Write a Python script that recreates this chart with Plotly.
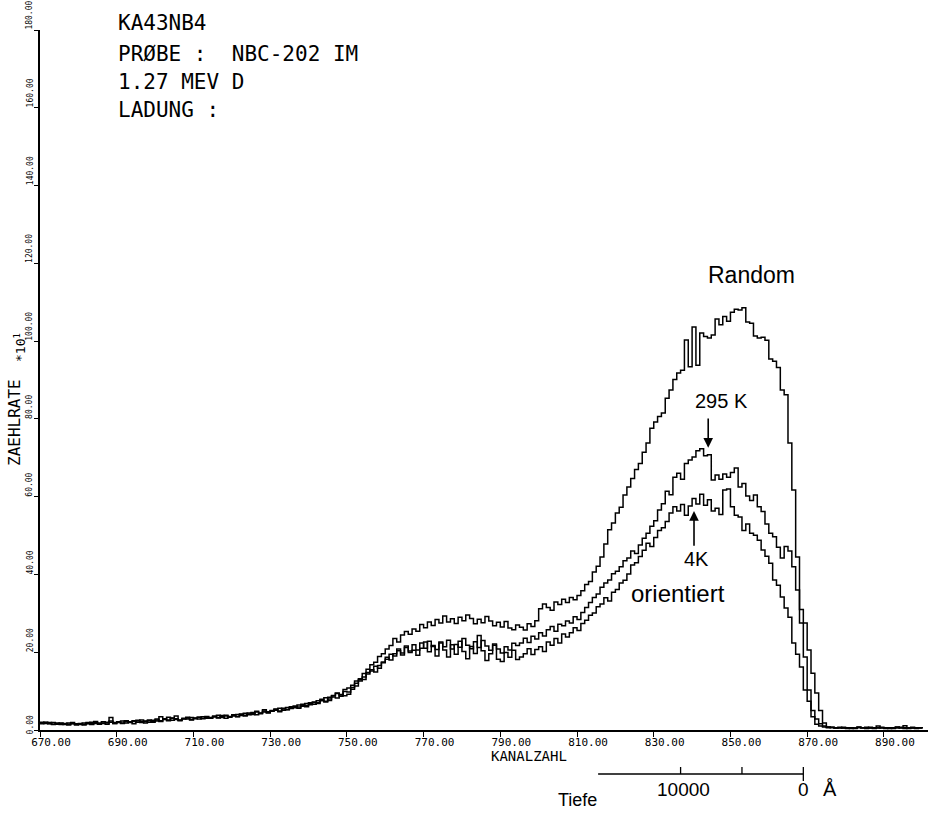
import plotly.graph_objects as go

# Channel-resolved backscattering yields (counts x 10^1), channels 670 ... 900
CH_FIRST = 670
CH_LAST = 900

random_counts = [
    1.8, 2.0, 1.6, 1.9, 1.5, 1.7, 1.4, 1.8, 1.6, 1.3,
    1.7, 1.5, 1.9, 1.6, 2.2, 1.8, 1.7, 2.0, 2.3, 1.9,
    2.1, 1.8, 2.4, 2.0, 2.2, 2.5, 1.9, 2.3, 2.6, 2.2,
    2.8, 2.4, 2.9, 2.6, 3.1, 2.7, 2.5, 3.0, 2.8, 3.2,
    2.9, 3.3, 3.0, 3.5, 3.1, 3.4, 3.8, 3.2, 3.6, 3.3,
    3.9, 3.5, 4.1, 3.8, 4.4, 4.0, 4.6, 4.2, 4.9, 4.5,
    5.0, 5.4, 4.9, 5.6, 5.3, 6.0, 5.7, 6.4, 6.1, 6.8,
    7.0, 6.6, 7.5, 7.9, 7.4, 8.4, 8.8, 9.5, 9.0, 10.4,
    10.8, 11.5, 12.6, 13.2, 14.5, 15.6, 16.8, 17.4, 18.9, 19.6,
    20.8, 21.7, 23.5, 22.6, 24.4, 25.3, 24.6, 26.0, 25.4, 27.1,
    26.3, 27.8, 26.9, 28.4, 27.5, 29.3, 27.8, 28.6, 27.4, 29.0,
    28.1, 29.6, 28.7, 27.3, 28.5, 27.6, 29.2, 28.0, 26.8, 27.7,
    26.5, 27.9, 26.2, 25.8, 27.0, 26.4, 25.7, 27.3, 26.6, 28.1,
    31.2, 32.4, 31.5, 30.8, 32.9, 32.3, 33.6, 32.8, 34.1, 33.5,
    34.6, 35.8, 37.4, 38.2, 40.6, 42.1, 44.5, 47.8, 51.5, 53.2,
    55.8, 57.3, 60.4, 62.5, 64.7, 67.0, 68.5, 71.4, 73.8, 77.6,
    79.2, 80.6, 81.5, 85.3, 87.4, 90.1, 91.8, 92.5, 100.3, 93.4,
    103.6, 93.8, 102.1, 101.2, 100.8, 101.6, 105.7, 104.2, 106.3, 105.1,
    107.4, 108.2, 108.0, 108.6, 104.9, 104.6, 101.3, 100.8, 101.0, 100.2,
    95.4, 94.8, 93.2, 87.4, 86.2, 73.8, 61.7, 44.5, 27.5, 18.8,
    10.3, 3.4, 1.5, 1.0, 0.8, 0.6, 0.7, 0.5, 0.6, 0.5,
    0.6, 0.4, 0.5, 0.7, 0.6, 0.4, 0.5, 0.6, 0.5, 0.7,
    0.4, 0.6, 0.5, 0.8, 0.6, 0.4, 0.5, 0.7, 0.5, 0.6,
    0.5,
]

aligned_295k = [
    1.6, 1.9, 1.7, 1.5, 1.8, 1.4, 1.7, 1.5, 1.9, 1.6,
    1.4, 1.8, 1.6, 2.0, 1.7, 1.5, 2.1, 1.8, 3.2, 1.7,
    1.9, 2.3, 1.8, 2.1, 2.4, 2.0, 2.6, 2.2, 2.0, 2.5,
    2.3, 3.4, 2.7, 2.4, 3.0, 3.6, 2.6, 2.9, 3.3, 2.7,
    3.1, 2.8, 3.4, 3.0, 3.2, 3.6, 3.1, 3.5, 3.8, 3.4,
    3.6, 4.0, 3.7, 4.3, 3.9, 4.2, 4.8, 4.4, 5.2, 4.7,
    4.8, 5.3, 5.6, 5.1, 5.8, 5.5, 6.2, 5.9, 6.6, 6.3,
    6.9, 7.2, 7.0, 7.8, 8.3, 7.6, 8.9, 9.4, 8.7, 9.9,
    9.8, 10.9, 12.0, 12.9, 13.6, 14.8, 15.2, 16.4, 15.9, 17.3,
    18.2, 19.5, 19.0, 20.4, 19.8, 21.6, 20.3, 21.9, 20.6, 22.4,
    21.0, 22.8, 21.5, 20.7, 22.6, 21.4, 23.1, 20.8, 22.0, 21.3,
    23.5, 21.8, 20.9, 22.7, 21.2, 23.0, 21.6, 20.5, 22.1, 20.8,
    19.8, 21.4, 20.6, 22.3, 21.7, 22.4, 23.6, 22.5, 24.1, 23.4,
    25.0, 24.2, 25.8, 26.6, 25.4, 27.2, 26.8, 28.0, 27.5, 29.1,
    28.4, 30.2, 31.5, 32.8, 34.1, 35.0, 36.7, 37.8, 38.6, 40.2,
    40.8, 42.0, 43.5, 44.2, 46.0, 45.4, 47.6, 49.3, 50.6, 52.4,
    53.8, 56.6, 58.2, 61.4, 60.5, 65.0, 66.0, 64.5, 68.5, 69.4,
    70.2, 71.8, 72.3, 70.5, 70.8, 64.3, 65.6, 64.5, 65.8, 65.0,
    66.2, 67.4, 62.5, 63.4, 60.2, 59.0, 60.4, 57.4, 56.2, 53.0,
    50.6, 49.7, 47.0, 44.2, 47.2, 46.0, 42.0, 36.0, 31.0, 27.5,
    20.6, 14.6, 9.5, 5.0, 1.8, 0.8, 0.7, 0.6, 0.5, 0.7,
    0.6, 0.5, 0.4, 0.6, 0.5, 0.7, 0.5, 0.4, 0.6, 0.5,
    0.6, 0.5, 0.4, 0.7, 0.5, 0.6, 0.4, 0.5, 0.6, 0.5,
    0.4,
]

aligned_4k = [
    2.0, 1.7, 1.9, 1.4, 1.6, 1.8, 1.5, 1.3, 1.7, 1.5,
    1.6, 1.3, 1.7, 1.4, 1.9, 1.6, 1.8, 1.5, 2.0, 1.7,
    2.0, 1.7, 2.2, 1.9, 1.6, 2.3, 2.1, 1.8, 2.4, 2.0,
    2.6, 2.2, 2.8, 3.3, 2.5, 2.9, 2.4, 2.8, 3.1, 2.6,
    3.0, 3.3, 2.9, 3.2, 3.0, 3.4, 3.2, 3.7, 3.0, 3.5,
    3.8, 3.4, 4.0, 3.6, 4.1, 4.5, 3.9, 4.3, 4.6, 4.4,
    4.9, 5.1, 4.7, 5.4, 5.2, 5.7, 6.0, 5.6, 6.3, 6.0,
    6.5, 7.1, 6.8, 7.5, 7.2, 8.0, 8.5, 8.2, 9.1, 8.8,
    9.2, 10.5, 11.3, 12.6, 13.0, 14.4, 15.5, 14.9, 16.6, 17.5,
    18.7, 18.0, 19.6, 20.8, 19.3, 21.2, 19.9, 20.5, 19.2, 21.0,
    22.6, 20.1, 21.7, 19.0, 22.4, 20.6, 18.8, 21.9, 19.5, 22.8,
    20.2, 18.3, 21.5, 19.7, 24.3, 20.4, 17.9, 19.6, 21.8, 18.2,
    17.6, 19.9, 18.7, 20.5, 18.1, 18.8, 19.6, 20.9, 19.4, 20.7,
    21.4, 20.2, 22.6, 21.8, 23.5, 22.4, 24.7, 23.9, 25.0, 26.3,
    25.6, 27.4, 28.2, 29.5, 30.1, 31.7, 32.4, 34.0, 33.2, 35.4,
    36.1, 37.8, 38.5, 40.1, 42.4, 43.0, 44.6, 46.2, 48.0, 47.2,
    49.5, 51.3, 52.0, 53.6, 55.8, 57.4, 56.3, 58.0, 55.2, 57.6,
    59.5, 58.1, 60.6, 57.8, 59.2, 56.3, 57.0, 55.4, 61.7, 62.0,
    57.4, 55.2, 54.8, 51.3, 53.0, 50.6, 50.1, 48.8, 46.3, 44.7,
    42.9, 38.6, 37.2, 34.2, 31.4, 29.0, 22.4, 19.5, 16.2, 10.3,
    7.4, 5.0, 2.8, 1.6, 1.0, 0.8, 0.6, 0.5, 0.7, 0.5,
    0.4, 0.6, 0.5, 0.8, 0.6, 0.5, 0.7, 0.5, 1.0, 0.6,
    0.5, 0.4, 0.6, 0.5, 0.7, 1.1, 0.6, 0.5, 0.4, 0.6,
    0.5,
]

channels = list(range(CH_FIRST, CH_LAST + 1))

x_tick_vals = [670, 690, 710, 730, 750, 770, 790, 810, 830, 850, 870, 890]
x_tick_text = [f"{v:.2f}" for v in x_tick_vals]
y_tick_vals = [0, 20, 40, 60, 80, 100, 120, 140, 160, 180]
y_tick_text = [f"{v:.2f}" for v in y_tick_vals]

header_lines = ["KA43NB4", "PRØBE :  NBC-202 IM", "1.27 MEV D", "LADUNG :"]

# depth scale (Tiefe) expressed in channel numbers
depth_start_ch = 815.5
depth_tick_ch = [837.0, 853.0, 869.0]
depth_labels = [("10000", 837.7), ("0", 869.0)]

X_MAX = 901.5
Y_MAX = 180
MONO = "DejaVu Sans Mono"
SANS = "Liberation Sans"

fig = go.Figure()
for counts, name in [(random_counts, "Random"), (aligned_295k, "295 K"), (aligned_4k, "4 K")]:
    fig.add_trace(go.Scatter(
        x=channels, y=counts, mode="lines", name=name,
        line=dict(color="black", width=1.5, shape="hv"),
        showlegend=False, hoverinfo="x+y+name",
    ))

# plot area runs from pixel x=40..928 and y=30..730
def px(xp):
    return (xp - 40) / 888.0

def py(yp):
    return (730 - yp) / 700.0

PX_PER_UNIT = 700.0 / Y_MAX


def note(text, x, y, size, family=SANS, angle=0, xref="x", yref="y", xanchor="center"):
    return dict(text=text, x=x, y=y, xref=xref, yref=yref, textangle=angle,
                showarrow=False, xanchor=xanchor, yanchor="middle",
                font=dict(family=family, size=size, color="black"))


ann = []
header_y = [23, 54, 82, 110]
for text, yp in zip(header_lines, header_y):
    ann.append(note(text, px(116), py(yp), 21, MONO, xref="paper", yref="paper", xanchor="left"))

# y tick labels, rotated, running upward from each tick
for val, text in zip(y_tick_vals, y_tick_text):
    half = len(text) * 2.4
    lift = half - 5 if val == 0 else half
    ann.append(note(text, px(30), py(730 - val * PX_PER_UNIT - lift), 8, MONO,
                    angle=-90, xref="paper", yref="paper"))

ann.append(note("ZAEHLRATE", px(14), py(423), 16, MONO, angle=-90, xref="paper", yref="paper"))
ann.append(note("*10<sup>1</sup>", px(20), py(348), 13, MONO, angle=-90, xref="paper", yref="paper"))
ann.append(note("KANALZAHL", px(529), py(756), 14, MONO, xref="paper", yref="paper"))

# curve labels
ann.append(note("Random", 855.4, 117.0, 23))
ann.append(note("295 K", 847.6, 84.6, 20))
ann.append(note("4K", 841.1, 44.0, 20))
ann.append(note("orientiert", 836.4, 35.0, 24))
# arrows pointing at the aligned spectra
ann.append(dict(text="", x=844.2, y=72.6, ax=844.2, ay=80.5, axref="x", ayref="y",
                showarrow=True, arrowhead=2, arrowsize=1.2, arrowwidth=1.6, arrowcolor="black"))
ann.append(dict(text="", x=840.5, y=56.3, ax=840.5, ay=47.0, axref="x", ayref="y",
                showarrow=True, arrowhead=2, arrowsize=1.2, arrowwidth=1.6, arrowcolor="black"))

# depth scale labels
for text, ch in depth_labels:
    ann.append(note(text, ch, py(790), 19, yref="paper"))
ann.append(note("Å", 876.0, py(789), 20, yref="paper"))
ann.append(note("Tiefe", 810.0, py(800), 18, yref="paper"))

shapes = [dict(type="line", xref="x", yref="paper", x0=depth_start_ch, x1=depth_tick_ch[-1],
               y0=py(774), y1=py(774), line=dict(color="black", width=1.3))]
for i, ch in enumerate(depth_tick_ch):
    y_low = py(781) if i == len(depth_tick_ch) - 1 else py(774)
    shapes.append(dict(type="line", xref="x", yref="paper", x0=ch, x1=ch,
                       y0=y_low, y1=py(767), line=dict(color="black", width=1.3)))

fig.update_layout(
    width=928, height=814, autosize=False,
    margin=dict(l=40, r=0, t=30, b=84),
    paper_bgcolor="white", plot_bgcolor="white",
    annotations=ann, shapes=shapes,
    xaxis=dict(range=[CH_FIRST, X_MAX], tickvals=x_tick_vals, ticktext=x_tick_text,
               showline=True, linecolor="black", linewidth=1.5, ticks="outside",
               ticklen=5, tickcolor="black", tickwidth=1.3, showgrid=False, zeroline=False,
               ticklabelshift=11, ticklabelstandoff=-4,
               tickfont=dict(family=MONO, size=11, color="black")),
    yaxis=dict(range=[0, Y_MAX], tickvals=y_tick_vals, showticklabels=False,
               showline=True, linecolor="black", linewidth=1.5, ticks="outside",
               ticklen=4, tickcolor="black", tickwidth=1.3, showgrid=False, zeroline=False),
)

fig.write_html("out.html")
